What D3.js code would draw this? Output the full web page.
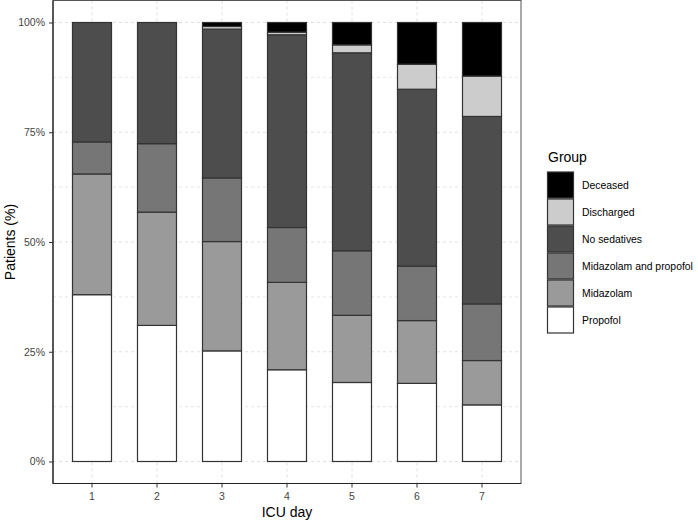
<!DOCTYPE html>
<html>
<head>
<meta charset="utf-8">
<script src="https://cdn.jsdelivr.net/npm/d3@7.9.0/dist/d3.min.js"></script>
<style>
  body { margin: 0; background: #fff; }
  svg { font-family: "Liberation Sans", Arial, sans-serif; }
</style>
</head>
<body>
<div id="chart"></div>
<script>
// ICU day categories
const days = ["1", "2", "3", "4", "5", "6", "7"];

// groups, bottom of the stack first
const groups = ["Propofol", "Midazolam", "Midazolam and propofol", "No sedatives", "Discharged", "Deceased"];

// share of patients (%) per day
const propofol     = [38.0, 31.0, 25.2, 20.9, 18.0, 17.8, 12.9];
const midazolam    = [27.5, 25.8, 24.9, 19.9, 15.3, 14.3, 10.1];
const midProp      = [7.3, 15.6, 14.5, 12.5, 14.7, 12.4, 12.9];
const noSedatives  = [27.2, 27.6, 33.9, 43.9, 45.1, 40.3, 42.7];
const discharged   = [0, 0, 0.6, 0.6, 1.8, 5.7, 9.2];
const deceased     = [0, 0, 0.9, 2.2, 5.1, 9.5, 12.2];

const yTicks = [0, 0.25, 0.5, 0.75, 1];
const yMinor = [0.125, 0.375, 0.625, 0.875];

const fills = {
  "Deceased": "#000000",
  "Discharged": "#cccccc",
  "No sedatives": "#4d4d4d",
  "Midazolam and propofol": "#767676",
  "Midazolam": "#9a9a9a",
  "Propofol": "#ffffff"
};

const rows = days.map((d, i) => ({
  day: d,
  "Propofol": propofol[i] / 100,
  "Midazolam": midazolam[i] / 100,
  "Midazolam and propofol": midProp[i] / 100,
  "No sedatives": noSedatives[i] / 100,
  "Discharged": discharged[i] / 100,
  "Deceased": deceased[i] / 100
}));

const width = 698, height = 522;
const panel = { left: 53, right: 521, top: 0.5, bottom: 483.5 };

const svg = d3.select("#chart").append("svg")
  .attr("width", width)
  .attr("height", height);

const x = d3.scaleBand()
  .domain(days)
  .range([panel.left, panel.right])
  .paddingInner(0.4)
  .paddingOuter(0.3);

const y = d3.scaleLinear()
  .domain([0, 1])
  .range([461.5, 22.5]);

// grid
const grid = svg.append("g");
grid.selectAll(".minor")
  .data(yMinor)
  .join("line")
    .attr("x1", panel.left).attr("x2", panel.right)
    .attr("y1", d => y(d)).attr("y2", d => y(d))
    .attr("stroke", "#e0e0e0")
    .attr("stroke-width", 0.8)
    .attr("stroke-dasharray", "3,3");
grid.selectAll(".major")
  .data(yTicks)
  .join("line")
    .attr("x1", panel.left).attr("x2", panel.right)
    .attr("y1", d => y(d)).attr("y2", d => y(d))
    .attr("stroke", "#d8d8d8")
    .attr("stroke-width", 0.8)
    .attr("stroke-dasharray", "3,3");
grid.selectAll(".vx")
  .data(days)
  .join("line")
    .attr("x1", d => x(d) + x.bandwidth() / 2).attr("x2", d => x(d) + x.bandwidth() / 2)
    .attr("y1", panel.top).attr("y2", panel.bottom)
    .attr("stroke", "#d8d8d8")
    .attr("stroke-width", 0.8)
    .attr("stroke-dasharray", "3,3");

// stacked bars
const series = d3.stack().keys(groups)(rows);

svg.append("g")
  .selectAll("g")
  .data(series)
  .join("g")
    .attr("fill", s => fills[s.key])
  .selectAll("rect")
  .data(s => s)
  .join("rect")
    .attr("x", d => x(d.data.day))
    .attr("width", x.bandwidth())
    .attr("y", d => y(d[1]))
    .attr("height", d => Math.max(0, y(d[0]) - y(d[1])))
    .attr("stroke", "#333")
    .attr("stroke-width", 1.2);

// panel border
svg.append("rect")
  .attr("x", panel.left).attr("y", panel.top)
  .attr("width", panel.right - panel.left)
  .attr("height", panel.bottom - panel.top)
  .attr("fill", "none")
  .attr("stroke", "#555")
  .attr("stroke-width", 1);

// axes
const yAxis = svg.append("g")
  .attr("transform", `translate(${panel.left},0)`)
  .call(d3.axisLeft(y).tickValues(yTicks).tickFormat(d3.format(".0%")).tickSize(4).tickPadding(4).tickSizeOuter(0));
yAxis.select(".domain").remove();
yAxis.append("line")
  .attr("x1", 0).attr("x2", 0)
  .attr("y1", panel.top).attr("y2", panel.bottom)
  .attr("stroke", "#222").attr("stroke-width", 1.2);

const xAxis = svg.append("g")
  .attr("transform", `translate(0,${panel.bottom})`)
  .call(d3.axisBottom(x).tickSize(4).tickPadding(5).tickSizeOuter(0));
xAxis.select(".domain").remove();
xAxis.append("line")
  .attr("x1", panel.left).attr("x2", panel.right)
  .attr("y1", 0).attr("y2", 0)
  .attr("stroke", "#222").attr("stroke-width", 1.2);

svg.selectAll(".tick text")
  .attr("font-size", "10.5px")
  .attr("font-family", "'Liberation Sans', Arial, sans-serif")
  .attr("fill", "#444");
svg.selectAll(".tick line").attr("stroke", "#333");

// axis titles
svg.append("text")
  .attr("x", (panel.left + panel.right) / 2)
  .attr("y", 517)
  .attr("text-anchor", "middle")
  .attr("font-size", "14px")
  .text("ICU day");

svg.append("text")
  .attr("transform", `translate(15,${(panel.top + panel.bottom) / 2}) rotate(-90)`)
  .attr("text-anchor", "middle")
  .attr("font-size", "14px")
  .text("Patients (%)");

// legend
const legend = svg.append("g").attr("transform", "translate(547,0)");
legend.append("text")
  .attr("x", 1).attr("y", 162)
  .attr("font-size", "14px")
  .text("Group");

const legendOrder = groups.slice().reverse();
const keyH = 27;
const item = legend.selectAll(".item")
  .data(legendOrder)
  .join("g")
    .attr("transform", (d, i) => `translate(0,${171.5 + i * keyH})`);
item.append("rect")
  .attr("x", 0.5).attr("y", 0.5)
  .attr("width", 26).attr("height", keyH - 1)
  .attr("fill", d => fills[d])
  .attr("stroke", "#333")
  .attr("stroke-width", 1.2);
item.append("text")
  .attr("x", 35)
  .attr("y", keyH / 2)
  .attr("dy", "0.35em")
  .attr("font-size", "10.4px")
  .text(d => d);
</script>
</body>
</html>
